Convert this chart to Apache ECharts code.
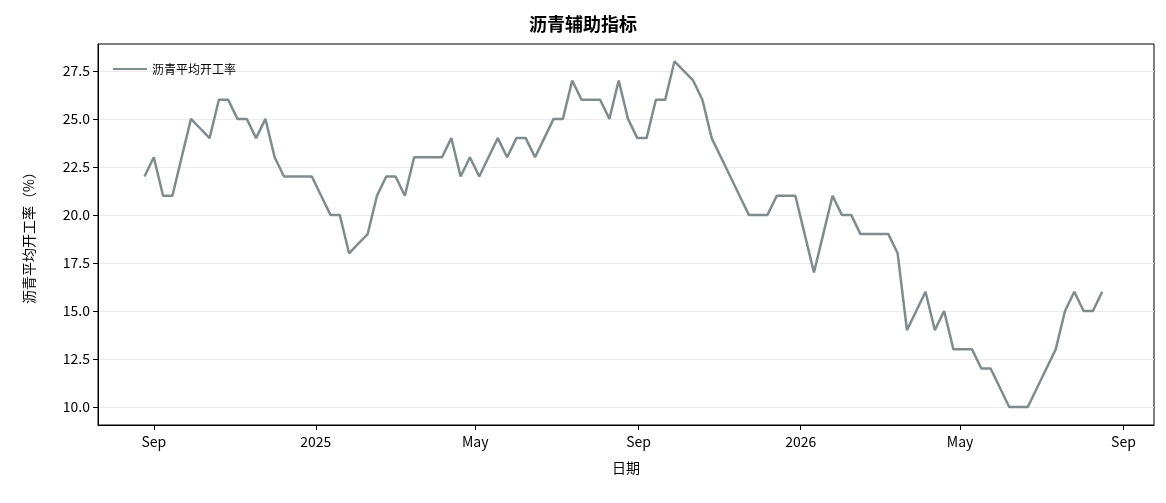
<!DOCTYPE html>
<html><head><meta charset="utf-8">
<script src="https://cdn.jsdelivr.net/npm/echarts@6/dist/echarts.min.js"></script>
<style>html,body{margin:0;padding:0;background:#fff}#c{width:1166px;height:503px}</style>
</head><body><div id="c"></div>
<script>
const startDate = '2024-08-25';
const values = [22,23,21,21,23,25,24.5,24,26,26,25,25,24,25,23,22,22,22,22,21,20,20,18,18.5,19,21,22,22,21,23,23,23,23,24,22,23,22,23,24,23,24,24,23,24,25,25,27,26,26,26,25,27,25,24,24,26,26,28,27.5,27,26,24,23,22,21,20,20,20,21,21,21,19,17,19,21,20,20,19,19,19,19,18,14,15,16,14,15,13,13,13,12,12,11,10,10,10,11,12,13,15,16,15,15,16];
const tickDates = ['2024-09-01','2025-01-01','2025-05-01','2025-09-01','2026-01-01','2026-05-01','2026-09-01'];
const tickLabels = ['Sep','2025','May','Sep','2026','May','Sep'];
const yTicks = [10,12.5,15,17.5,20,22.5,25,27.5];
const seriesName = '沥青平均开工率';

const DAY = 86400000;
const t0 = new Date(startDate + 'T00:00:00Z').getTime();
const data = values.map((v,i)=>[t0 + i*7*DAY, v]);
const tickTs = tickDates.map(d=>new Date(d+'T00:00:00Z').getTime());
const labelMap = {}; tickTs.forEach((t,i)=>labelMap[t]=tickLabels[i]);
const font = '"Microsoft YaHei","Noto Sans CJK SC",sans-serif';
const chart = echarts.init(document.getElementById('c'));
chart.setOption({
  animation:false,
  textStyle:{fontFamily:font},
  title:{text:'沥青辅助指标',left:'center',top:10,textStyle:{fontSize:18,fontWeight:'bold',color:'#000',fontFamily:font}},
  legend:{left:108,top:58,itemWidth:34,itemHeight:2,icon:'rect',textStyle:{fontSize:12,color:'#000'},data:[seriesName]},
  grid:{left:98,right:12,top:44,bottom:78,show:true,borderColor:'#000',borderWidth:1},
  xAxis:{type:'value',min:new Date('2024-07-21T00:00:00Z').getTime(),max:new Date('2026-09-24T00:00:00Z').getTime(),
    name:'日期',nameLocation:'middle',nameGap:36,nameTextStyle:{fontSize:14,color:'#000'},
    axisLine:{lineStyle:{color:'#000'}},
    axisTick:{show:true,customValues:tickTs,length:5,lineStyle:{color:'#000'}},
    axisLabel:{customValues:tickTs,formatter:v=>labelMap[v]||'',fontSize:14,color:'#000',margin:10},
    splitLine:{show:false}},
  yAxis:{type:'value',min:9.06,max:28.9,
    name:'沥青平均开工率（%）',nameLocation:'middle',nameGap:62,nameTextStyle:{fontSize:14,color:'#000'},
    axisLine:{show:true,lineStyle:{color:'#000'}},
    axisTick:{show:true,length:5,lineStyle:{color:'#000'},customValues:yTicks},
    axisLabel:{customValues:yTicks,formatter:v=>v.toFixed(1),fontSize:14,color:'#000'},
    splitLine:{show:false}},
  series:[{name:seriesName,type:'line',data:data,showSymbol:false,lineStyle:{color:'#7f8c8d',width:2.5},itemStyle:{color:'#7f8c8d'},
    markLine:{silent:true,symbol:'none',label:{show:false},lineStyle:{color:'#ebebeb',width:1,type:'solid'},data:yTicks.map(v=>({yAxis:v})),z:0}}]
});
</script></body></html>
